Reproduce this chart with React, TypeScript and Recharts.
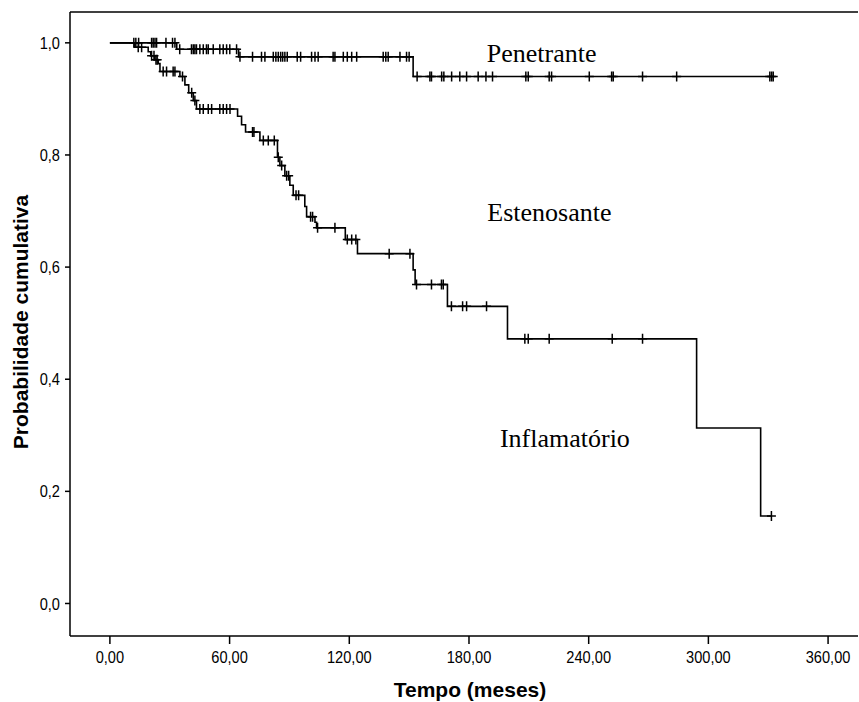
import React from 'react';
import { LineChart, Line, XAxis, YAxis, ReferenceLine, ReferenceDot, Label } from 'recharts';

// Upper curve: times (meses) where the survival drops, and the value after each drop
const penetranteStepTimes = [0, 33.5, 64.5, 152];
const penetranteStepValues = [1.0, 0.9885, 0.975, 0.94];
// Upper curve: censored observations (meses)
const penetranteCensorTimes = [
  12.0, 13.0, 14.4, 20.9, 21.7, 22.6, 23.4, 28.1, 31.4, 32.6, 35.0, 40.9, 41.8, 42.6, 43.4, 45.1,
  46.8, 48.4, 49.3, 51.8, 55.1, 56.8, 58.5, 60.1, 63.5, 65.2, 71.5, 76.0, 77.7, 81.9, 83.2, 84.4,
  85.6, 86.6, 87.7, 88.9, 93.9, 95.6, 101.1, 102.8, 104.4, 111.9, 112.8, 117.0, 119.0, 121.2, 123.7,
  137.0, 138.3, 139.5, 145.4, 148.7, 150.0, 154.0, 160.4, 161.2, 166.3, 167.4, 171.3, 175.4, 178.8,
  184.6, 188.5, 191.8, 208.5, 209.7, 220.2, 221.4, 240.3, 251.5, 252.3, 267.0, 284.1, 330.8, 331.7,
  332.5,
];

// Lower curve: drop times (meses) and survival after each drop
const inflamatorioStepTimes = [
  0, 12.5, 19.2, 20.5, 22.5, 24.2, 25.1, 35.1, 37.6, 39.5, 41.8, 43.4, 64.0, 66.0, 68.0, 75.2, 84.0,
  85.2, 87.7, 90.2, 91.9, 97.7, 98.6, 102.8, 103.6, 118.0, 124.1, 152.0, 153.0, 169.2, 199.3, 294.1,
  326.2,
];
const inflamatorioStepValues = [
  1.0, 0.992, 0.984, 0.977, 0.97, 0.963, 0.949, 0.94, 0.925, 0.911, 0.897, 0.882, 0.869, 0.854, 0.841,
  0.826, 0.796, 0.781, 0.763, 0.746, 0.728, 0.708, 0.69, 0.68, 0.67, 0.649, 0.624, 0.595, 0.569, 0.53,
  0.472, 0.313, 0.156,
];
// Lower curve: censored observations (meses)
const inflamatorioCensorTimes = [
  14.2, 15.9, 20.9, 22.1, 23.1, 23.7, 26.7, 28.4, 31.7, 32.6, 36.4, 41.0, 42.6, 45.1, 46.8, 49.3, 51.0,
  55.1, 56.8, 58.5, 60.2, 71.5, 72.2, 76.9, 79.4, 82.4, 84.4, 86.1, 88.6, 89.6, 93.3, 94.6, 100.6,
  101.6, 104.1, 112.8, 119.0, 121.2, 123.3, 140.0, 150.4, 153.7, 161.2, 166.2, 167.1, 171.2, 176.8,
  178.8, 188.8, 208.0, 209.7, 220.2, 251.8, 267.0, 331.6,
];

const xTicks = [0, 60, 120, 180, 240, 300, 360];
const yTicks = [0, 0.2, 0.4, 0.6, 0.8, 1.0];

// Group names written next to the curves: [name, time, probability]
const groupLabels: [string, number, number][] = [
  ['Penetrante', 188.9, 0.965],
  ['Estenosante', 189.2, 0.682],
  ['Inflamatório', 195.5, 0.28],
];

type Pt = { t: number; s: number; c: boolean };

// Kaplan-Meier step function plus its censor points
function buildCurve(stepTimes: number[], stepValues: number[], censorTimes: number[]): Pt[] {
  const valueAt = (t: number) => {
    let v = stepValues[0];
    for (let i = 0; i < stepTimes.length; i++) if (stepTimes[i] <= t) v = stepValues[i];
    return v;
  };
  const pts: Pt[] = [
    ...stepTimes.map((t, i) => ({ t, s: stepValues[i], c: false })),
    ...censorTimes.map((t) => ({ t, s: valueAt(t), c: true })),
  ];
  pts.sort((a, b) => a.t - b.t || Number(a.c) - Number(b.c));
  return pts;
}

const upper = buildCurve(penetranteStepTimes, penetranteStepValues, penetranteCensorTimes);
const lower = buildCurve(inflamatorioStepTimes, inflamatorioStepValues, inflamatorioCensorTimes);

const CensorMark = (props: any) => {
  const { cx, cy, payload, index } = props;
  if (!payload || !payload.c) return <g key={`n${index}`} />;
  return (
    <path
      key={`c${index}`}
      d={`M${cx - 4.5},${cy}H${cx + 4.5}M${cx},${cy - 5}V${cy + 5}`}
      stroke="#000"
      strokeWidth={1.5}
      fill="none"
    />
  );
};

const sansFont = "'Liberation Sans', Arial, sans-serif";
const serifFont = "'Liberation Serif', 'Times New Roman', serif";

const fmtX = (v: number) => v.toFixed(2).replace('.', ',');
const fmtY = (v: number) => v.toFixed(1).replace('.', ',');

// Narrow tick text: Arial-like glyphs squeezed horizontally about the anchor point
const XTick = (props: any) => {
  const { x, y, payload } = props;
  return (
    <g transform={`translate(${x},${y}) scale(0.86,1)`}>
      <text x={0} y={0} dy="0.75em" textAnchor="middle" fontFamily={sansFont} fontSize={17} fill="#000">
        {fmtX(payload.value)}
      </text>
    </g>
  );
};

const YTick = (props: any) => {
  const { x, y, payload } = props;
  return (
    <g transform={`translate(${x},${y}) scale(0.86,1)`}>
      <text x={0} y={0} dy="0.36em" textAnchor="end" fontFamily={sansFont} fontSize={17} fill="#000">
        {fmtY(payload.value)}
      </text>
    </g>
  );
};

export default function App() {
  return (
    <div style={{ position: 'absolute', left: 0, top: 0, background: '#fff' }}>
      <LineChart width={859} height={702} margin={{ top: 12, right: 1, bottom: 0, left: 0 }}>
        <ReferenceLine y={1.055} stroke="#000" strokeWidth={1.5} ifOverflow="visible" />
        <XAxis
          type="number"
          dataKey="t"
          domain={[-20, 375]}
          ticks={xTicks}
          allowDataOverflow
          height={66}
          tickSize={8}
          tickMargin={6}
          axisLine={{ stroke: '#000', strokeWidth: 1.5 }}
          tickLine={{ stroke: '#000', strokeWidth: 1.5 }}
          tick={<XTick />}
        >
          <Label
            content={() => (
              <text
                x={470}
                y={697}
                textAnchor="middle"
                fontFamily={sansFont}
                fontWeight="bold"
                fontSize={21}
                fill="#000"
              >
                Tempo (meses)
              </text>
            )}
          />
        </XAxis>
        <YAxis
          type="number"
          domain={[-0.058, 1.055]}
          ticks={yTicks}
          allowDataOverflow
          width={70}
          tickSize={5}
          tickMargin={5}
          axisLine={{ stroke: '#000', strokeWidth: 1.5 }}
          tickLine={{ stroke: '#000', strokeWidth: 1.5 }}
          tick={<YTick />}
        >
          <Label
            content={() => (
              <text
                x={28}
                y={322}
                transform="rotate(-90, 28, 322)"
                textAnchor="middle"
                fontFamily={sansFont}
                fontWeight="bold"
                fontSize={21}
                fill="#000"
              >
                Probabilidade cumulativa
              </text>
            )}
          />
        </YAxis>
        <Line
          data={upper}
          dataKey="s"
          type="stepAfter"
          stroke="#000"
          strokeWidth={1.6}
          dot={CensorMark}
          activeDot={false}
          isAnimationActive={false}
        />
        <Line
          data={lower}
          dataKey="s"
          type="stepAfter"
          stroke="#000"
          strokeWidth={1.6}
          dot={CensorMark}
          activeDot={false}
          isAnimationActive={false}
        />
        {groupLabels.map(([name, t, p]) => (
          <ReferenceDot
            key={name}
            x={t}
            y={p}
            r={0}
            fill="none"
            stroke="none"
            label={{
              content: (lp: any) => (
                <text x={lp.viewBox.x} y={lp.viewBox.y} fontFamily={serifFont} fontSize={26} fill="#000">
                  {name}
                </text>
              ),
            }}
          />
        ))}
      </LineChart>
    </div>
  );
}
